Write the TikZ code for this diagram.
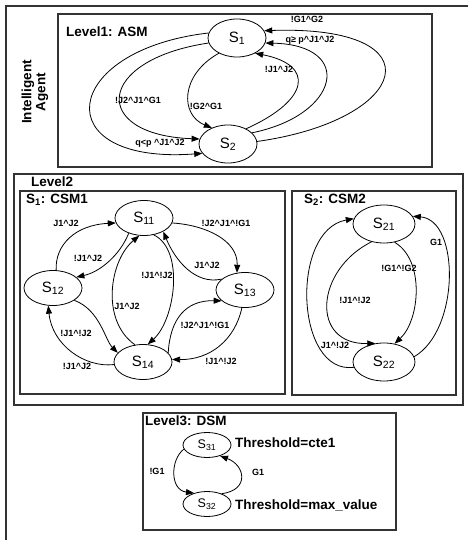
\documentclass[tikz,border=0pt]{standalone}
\usepackage{fontspec}
\setmainfont{Liberation Sans}
\usetikzlibrary{arrows.meta,shapes.geometric}
\newcommand{\andsym}{\textasciicircum}
\tikzset{
  state/.style = {draw, ellipse, line width=0.8pt, minimum width=58pt, minimum height=38pt,
                  inner sep=0pt, font=\fontsize{15}{15}\selectfont},
  substate/.style = {state, minimum height=35pt},
  dsmstate/.style = {state, minimum width=48pt, minimum height=25pt, font=\fontsize{12.5}{12.5}\selectfont},
  trans/.style = {-{Triangle[length=8pt,width=6pt]}, line width=0.8pt},
  tlabel/.style = {font=\fontsize{9}{9}\selectfont\bfseries, inner sep=0pt},
  head/.style = {font=\fontsize{13.5}{14}\selectfont\bfseries, anchor=west, inner sep=0pt},
  lvlbox/.style = {draw=black!80, line width=1.3pt}
}
\begin{document}
\begin{tikzpicture}[x=1pt,y=-1pt]
    \useasboundingbox (0,0) rectangle (468,540);
    % frames
    \draw[lvlbox] (468,6) -- (6,6) -- (6,540);
    \draw[lvlbox] (58,14) rectangle (432,167);
    \draw[lvlbox] (14,174) rectangle (463,405);
    \draw[lvlbox] (20,191) rectangle (285,394);
    \draw[lvlbox] (292,191) rectangle (456,395);
    \draw[lvlbox] (143,413) rectangle (396,530);
    \node[head, rotate=90, anchor=center, align=center] (agent) at (35,92) {Intelligent\\Agent};
    % Level 1
    \node[head] (asm) at (66,32) {Level1: ASM};
    \node[state] (S1) at (237,38) {S\textsubscript{1}};
    \node[state] (S2) at (228,144) {S\textsubscript{2}};
    \draw[trans] (S1.220) .. controls (180,75) and (180,115) .. (S2.135);
    \draw[trans] (S2.40) .. controls (310,100) and (315,65) .. (S1.320);
    \draw[trans] (S1.190) .. controls (95,60) and (90,135) .. (S2.170);
    \draw[trans] (S1.170) .. controls (60,50) and (45,165) .. (S2.200);
    \draw[trans] (S2.25) .. controls (340,115) and (355,45) .. (S1.350);
    \draw[trans] (S2.5) .. controls (410,120) and (440,25) .. (S1.15);
    \node[tlabel] (e12a) at (206,106) {!G2\andsym G1};
    \node[tlabel] (e21a) at (279,69) {!J1\andsym J2};
    \node[tlabel] (e12b) at (138,100) {!J2\andsym J1\andsym G1};
    \node[tlabel] (e12c) at (160,143) {q<p \andsym J1\andsym J2};
    \node[tlabel] (e21b) at (310,40) {q≥ p\andsym J1\andsym J2};
    \node[tlabel] (e21c) at (307,19) {!G1\andsym G2};
    % Level 2
    \node[head] (lvl2) at (31,182) {Level2};
    \node[head] (csm1) at (26,200) {S\textsubscript{1}: CSM1};
    \node[head] (csm2) at (304,200) {S\textsubscript{2}: CSM2};
    \node[substate] (S11) at (144,218) {S\textsubscript{11}};
    \node[substate] (S12) at (53,288) {S\textsubscript{12}};
    \node[substate] (S13) at (245,290) {S\textsubscript{13}};
    \node[substate] (S14) at (143,362) {S\textsubscript{14}};
    \draw[trans] (S12.80) .. controls (55,245) and (75,225) .. (S11.190);
    \draw[trans] (S11.225) .. controls (120,255) and (100,272) .. (S12.25);
    \draw[trans] (S11.350) .. controls (205,225) and (238,240) .. (S13.115);
    \draw[trans] (S13.155) .. controls (195,285) and (175,260) .. (S11.325);
    \draw[trans] (S11.300) .. controls (185,250) and (175,320) .. (S14.75);
    \draw[trans] (S14.115) .. controls (100,320) and (110,260) .. (S11.255);
    \draw[trans] (S12.330) .. controls (100,310) and (105,340) .. (S14.160);
    \draw[trans] (S14.185) .. controls (85,368) and (52,345) .. (S12.255);
    \draw[trans] (S14.20) .. controls (170,320) and (185,300) .. (S13.205);
    \draw[trans] (S13.260) .. controls (235,340) and (210,360) .. (S14.5);
    \node[tlabel] (e1211) at (66,223) {J1\andsym J2};
    \node[tlabel] (e1112) at (88,258) {!J1\andsym J2};
    \node[tlabel] (e1113) at (226,223) {!J2\andsym J1\andsym!G1};
    \node[tlabel] (e1311) at (207,265) {J1\andsym J2};
    \node[tlabel] (e1114) at (157,275) {!J1\andsym!J2};
    \node[tlabel] (e1411) at (127,306) {J1\andsym J2};
    \node[tlabel] (e1214) at (76,333) {!J1\andsym!J2};
    \node[tlabel] (e1412) at (77,366) {!J1\andsym J2};
    \node[tlabel] (e1413) at (205,325) {!J2\andsym J1\andsym!G1};
    \node[tlabel] (e1314) at (221,361) {!J1\andsym!J2};
    \node[state, minimum width=62pt] (S21) at (384,224) {S\textsubscript{21}};
    \node[state, minimum width=62pt] (S22) at (384,362) {S\textsubscript{22}};
    \draw[trans] (S21.300) .. controls (425,260) and (420,320) .. (S22.60);
    \draw[trans] (S21.235) .. controls (315,270) and (310,345) .. (S22.115);
    \draw[trans] (S22.190) .. controls (295,375) and (290,230) .. (S21.170);
    \draw[trans] (S22.10) .. controls (460,330) and (460,220) .. (S21.15);
    \node[tlabel] (e2122a) at (399,268) {!G1\andsym!G2};
    \node[tlabel] (e2122b) at (355,300) {!J1\andsym!J2};
    \node[tlabel] (e2221a) at (335,345) {J1\andsym!J2};
    \node[tlabel] (e2221b) at (436,242) {G1};
    % Level 3
    \node[head] (dsm) at (145,421) {Level3: DSM};
    \node[dsmstate] (S31) at (207,445) {S\textsubscript{31}};
    \node[dsmstate] (S32) at (207,504) {S\textsubscript{32}};
    \draw[trans] (S31.190) .. controls (170,460) and (170,490) .. (S32.140);
    \draw[trans] (S32.35) .. controls (250,490) and (245,465) .. (S31.320);
    \node[tlabel] (e3132) at (157,471) {!G1};
    \node[tlabel] (e3231) at (258,472) {G1};
    \node[head] (thr1) at (235,443) {Threshold=cte1};
    \node[head] (thr2) at (235,505) {Threshold=max\_value};
\end{tikzpicture}
\end{document}
